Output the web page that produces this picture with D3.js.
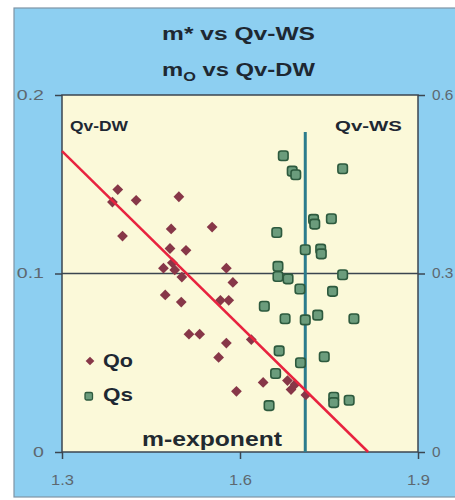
<!DOCTYPE html>
<html>
<head>
<meta charset="utf-8">
<script src="https://cdn.jsdelivr.net/npm/d3@7"></script>
<style>
  html, body { margin: 0; padding: 0; background: #ffffff; }
  svg { display: block; }
  text { font-family: "Liberation Sans", Arial, Helvetica, sans-serif; }
</style>
</head>
<body>
<svg id="chart" width="455" height="500"></svg>
<script>
// Qo: m0 exponent against Qv-DW (left axis)
const qoM  = [1.394, 1.385, 1.425, 1.497, 1.402, 1.484, 1.553, 1.482, 1.509, 1.471,
              1.486, 1.490, 1.502, 1.474, 1.501, 1.514, 1.532, 1.564, 1.577, 1.588,
              1.567, 1.581, 1.619, 1.577, 1.639, 1.594, 1.680, 1.693, 1.686, 1.711];
const qoQv = [0.147, 0.140, 0.141, 0.143, 0.121, 0.125, 0.126, 0.114, 0.113, 0.103,
              0.106, 0.102, 0.098, 0.088, 0.084, 0.066, 0.066, 0.053, 0.103, 0.095,
              0.085, 0.085, 0.063, 0.061, 0.039, 0.034, 0.040, 0.038, 0.035, 0.032];

// Qs: m* exponent against Qv-WS (right axis)
const qsM  = [1.673, 1.688, 1.694, 1.773, 1.724, 1.726, 1.754, 1.662, 1.710, 1.736,
              1.737, 1.664, 1.664, 1.681, 1.773, 1.701, 1.756, 1.641, 1.676, 1.710,
              1.731, 1.792, 1.666, 1.702, 1.742, 1.660, 1.758, 1.758, 1.784, 1.649];
const qsQv = [0.498, 0.472, 0.466, 0.476, 0.391, 0.383, 0.392, 0.369, 0.340, 0.341,
              0.333, 0.312, 0.295, 0.291, 0.298, 0.274, 0.270, 0.245, 0.224, 0.222,
              0.230, 0.224, 0.170, 0.150, 0.160, 0.132, 0.092, 0.083, 0.087, 0.078];

// Fitted trend for Qo and the Qv-WS reference line
const qoFitM  = [1.3, 1.816];
const qoFitQv = [0.1686, 0];
const wsLineM  = [1.71, 1.71];
const wsLineQv = [0, 0.538];

// Axes
const xTicks      = [1.3, 1.6, 1.9];
const xTickLabels = ["1.3", "1.6", "1.9"];
const leftTicks   = [0, 0.1, 0.2];
const leftLabels  = ["0", "0.1", "0.2"];
const rightTicks  = [0, 0.3, 0.6];
const rightLabels = ["0", "0.3", "0.6"];
const seriesNames = ["Qo", "Qs"];

const svg = d3.select("#chart");
const L = 62, R = 418, T = 95, B = 452;

const x  = d3.scaleLinear().domain([1.3, 1.9]).range([L, R]);
const yL = d3.scaleLinear().domain([0, 0.2]).range([B, T]);
const yR = d3.scaleLinear().domain([0, 0.6]).range([B, T]);

const ink = "#3b4650";
const labelInk = "#5d6870";

// Panel background
svg.append("rect").attr("x", 14).attr("y", 8).attr("width", 460).attr("height", 489)
  .attr("fill", "#8dcff1").attr("stroke", "#7f94a6").attr("stroke-width", 1.2);

// Plot area
svg.append("rect").attr("x", L).attr("y", T).attr("width", R - L).attr("height", B - T)
  .attr("fill", "#fbf9d9");

// Scale a text element horizontally about its anchor so it spans a given width
function stretchTo(textSel, width) {
  const w = textSel.node().getComputedTextLength();
  return w > 0 ? width / w : 1;
}
function placeText(g, str, opts) {
  const grp = g.append("g");
  const t = grp.append("text").text(str)
    .attr("font-size", opts.size).attr("font-weight", opts.weight || "bold")
    .attr("fill", opts.fill || "#1e2832")
    .attr("text-anchor", opts.anchor || "start");
  const sx = stretchTo(t, opts.width);
  grp.attr("transform", `translate(${opts.x},${opts.y}) scale(${sx},1)`);
  return grp;
}

// Titles
placeText(svg, "m* vs Qv-WS", { x: 238.5, y: 40, size: 19, width: 153, anchor: "middle" });
{
  const grp = svg.append("g");
  const t = grp.append("text").attr("font-size", 19).attr("font-weight", "bold")
    .attr("fill", "#1e2832").attr("text-anchor", "middle");
  t.append("tspan").text("m");
  t.append("tspan").text("O").attr("font-size", 13).attr("dy", 5);
  t.append("tspan").text(" vs Qv-DW").attr("dy", -5);
  const sx = stretchTo(t, 153);
  grp.attr("transform", `translate(238.5,76) scale(${sx},1)`);
}

// Axes
const gl = svg.append("g").attr("transform", `translate(${L},0)`)
  .call(d3.axisLeft(yL).tickValues(leftTicks).tickSize(7).tickPadding(11)
    .tickFormat((d, i) => leftLabels[i]));
const gr = svg.append("g").attr("transform", `translate(${R},0)`)
  .call(d3.axisRight(yR).tickValues(rightTicks).tickSize(7).tickPadding(7)
    .tickFormat((d, i) => rightLabels[i]));
const gb = svg.append("g").attr("transform", `translate(0,${B})`)
  .call(d3.axisBottom(x).tickValues(xTicks).tickSize(7).tickPadding(16)
    .tickFormat((d, i) => xTickLabels[i]));

[gl, gr, gb].forEach(g => {
  g.select(".domain").remove();
  g.selectAll(".tick line").attr("stroke", ink).attr("stroke-width", 1.5);
  g.selectAll(".tick text").attr("fill", labelInk).attr("font-size", 14)
    .attr("font-family", "'Liberation Sans', Arial, sans-serif");
});
gl.selectAll(".tick text").each(function () {
  const t = d3.select(this); const ox = +t.attr("x");
  t.attr("x", 0).attr("transform", `translate(${ox},0) scale(1.4,1)`);
});
gr.selectAll(".tick text").each(function () {
  const t = d3.select(this); const ox = +t.attr("x");
  t.attr("x", 0).attr("transform", `translate(${ox},0) scale(1.1,1)`);
});
gb.selectAll(".tick text").attr("x", 0).attr("transform", "scale(1.18,1)");

// Frame and 0.1 reference line
svg.append("rect").attr("x", L).attr("y", T).attr("width", R - L).attr("height", B - T)
  .attr("fill", "none").attr("stroke", ink).attr("stroke-width", 1.5);
svg.append("line").attr("x1", L).attr("x2", R).attr("y1", yL(0.1)).attr("y2", yL(0.1))
  .attr("stroke", ink).attr("stroke-width", 1.5);

// Corner labels
placeText(svg, "Qv-DW", { x: 70, y: 131, size: 15, width: 58 });
placeText(svg, "Qv-WS", { x: 335, y: 131, size: 15, width: 67 });

// Qv-WS reference line
svg.append("path")
  .datum(d3.zip(wsLineM, wsLineQv))
  .attr("d", d3.line().x(d => x(d[0])).y(d => yR(d[1])))
  .attr("stroke", "#2c7c8c").attr("stroke-width", 3).attr("fill", "none");

// Qs squares
const qsData = d3.zip(qsM, qsQv);
const sq = 9.5;
svg.append("g").selectAll("rect").data(qsData).join("rect")
  .attr("x", d => x(d[0]) - sq / 2).attr("y", d => yR(d[1]) - sq / 2)
  .attr("width", sq).attr("height", sq).attr("rx", 2.5)
  .attr("fill", "#6b9c7c").attr("stroke", "#2d5a3e").attr("stroke-width", 1.6);

// Qo diamonds
const qoData = d3.zip(qoM, qoQv);
const diamond = d3.symbol(d3.symbolSquare, 58)();
svg.append("g").selectAll("path").data(qoData).join("path")
  .attr("d", diamond)
  .attr("transform", d => `translate(${x(d[0])},${yL(d[1])}) rotate(45)`)
  .attr("fill", "#873748");

// Qo trend line
svg.append("path")
  .datum(d3.zip(qoFitM, qoFitQv))
  .attr("d", d3.line().x(d => x(d[0])).y(d => yL(d[1])))
  .attr("stroke", "#e8233f").attr("stroke-width", 2.5).attr("fill", "none");

// Legend
const lg = svg.append("g");
lg.append("path").attr("d", d3.symbol(d3.symbolSquare, 38)())
  .attr("transform", "translate(90,361) rotate(45)").attr("fill", "#873748");
lg.append("rect").attr("x", 85).attr("y", 392.5).attr("width", 7.5).attr("height", 7.5).attr("rx", 1.5)
  .attr("fill", "#6b9c7c").attr("stroke", "#2d5a3e").attr("stroke-width", 1.3);
placeText(lg, seriesNames[0], { x: 103, y: 367, size: 19, width: 30 });
placeText(lg, seriesNames[1], { x: 103, y: 401, size: 19, width: 30 });

// Axis title
placeText(svg, "m-exponent", { x: 142, y: 446, size: 20, width: 140, fill: "#222a30" });
</script>
</body>
</html>
